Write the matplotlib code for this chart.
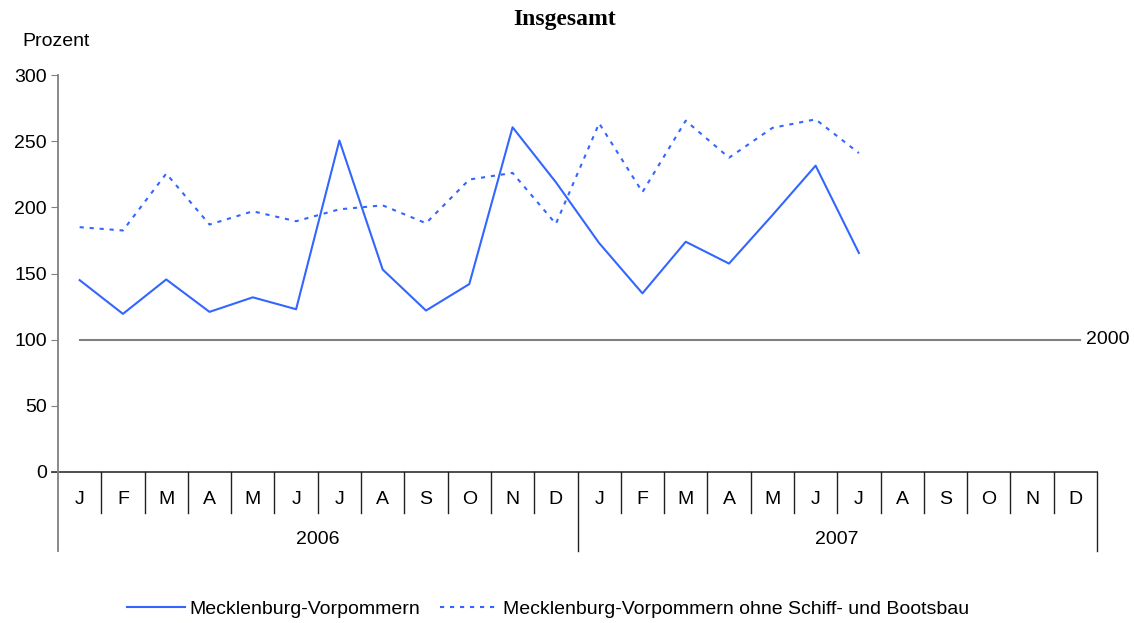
import matplotlib
matplotlib.use("Agg")
import matplotlib.pyplot as plt

plt.rcParams['font.family'] = ['Liberation Sans', 'DejaVu Sans']

months = ["J", "F", "M", "A", "M", "J", "J", "A", "S", "O", "N", "D"] * 2
years = ["2006", "2007"]

# Index 2000 = 100, Prozent
mv = [145, 119.5, 145.5, 121, 132, 123, 250.5, 153, 122, 142, 260.5, 219,
      173, 135, 174, 157.5, 194, 231.5, 165.5]
mv_ohne = [185, 182.5, 225.5, 187, 197, 189.5, 198.5, 201.5, 188, 221, 226, 187.5,
           263.5, 211.5, 265.5, 237.5, 260, 266.5, 241]
basis = 100

blue = "#3366FF"
grey = "#808080"
fs = 14

fig = plt.figure(figsize=(11.34, 6.23), dpi=100)
ax = fig.add_axes([58/1134, 1-472/623, (1097-58)/1134, (472-75)/623])

x = list(range(len(mv)))
ax.plot(x, mv, color=blue, lw=1.5, label="Mecklenburg-Vorpommern")
ax.plot(x, mv_ohne, color=blue, lw=1.5, linestyle=(0, (2, 2.8)),
        label="Mecklenburg-Vorpommern ohne Schiff- und Bootsbau")
ax.plot([0, len(months)-1+0.1], [basis, basis], color=grey, lw=1.5)
ax.text(len(months)-1+0.25, basis, "2000", ha="left", va="center", fontsize=fs)

ax.set_xlim(-0.5, len(months)-0.5)
ax.set_ylim(0, 300)
ax.set_yticks([0, 50, 100, 150, 200, 250, 300])
ax.tick_params(axis="y", direction="out", length=5, color=grey, labelsize=fs, pad=3)
ax.set_xticks([])
for s in ["top", "right", "bottom"]:
    ax.spines[s].set_visible(False)
ax.spines["left"].set_color(grey)
ax.spines["left"].set_linewidth(1.3)
ax.spines["left"].set_bounds(0, 300)

tr = ax.get_xaxis_transform()
# zero line
ax.plot([-0.5 - 0.15, len(months)-0.5], [0, 0], transform=tr, color="#404040", lw=1.3, clip_on=False)
# left spine extension down through category area
ax.plot([-0.5, -0.5], [0, -0.199], transform=tr, color=grey, lw=1.3, clip_on=False)
for i in range(1, len(months)+1):
    b = i - 0.5
    low = -0.199 if i % 12 == 0 else -0.1025
    ax.plot([b, b], [0, low], transform=tr, color="#202020", lw=1.0, clip_on=False)
for i, m in enumerate(months):
    ax.text(i, -0.0705, m, transform=tr, ha="center", va="center", fontsize=fs)
for j, y in enumerate(years):
    ax.text(j*12 + 5.5, -0.169, y, transform=tr, ha="center", va="center", fontsize=fs)

fig.text(565/1134, 1-20/623, "Insgesamt", ha="center", va="center",
         fontsize=17, fontweight="bold", family="Liberation Serif")
fig.text(22/1134, 1-42/623, "Prozent", ha="left", va="center", fontsize=fs)

fig.legend(loc="center", bbox_to_anchor=(548/1134, 1-609/623), ncol=2, frameon=False,
           fontsize=fs, handlelength=3.0, handletextpad=0.25, columnspacing=1.0)

fig.savefig("out.png", dpi=100)
